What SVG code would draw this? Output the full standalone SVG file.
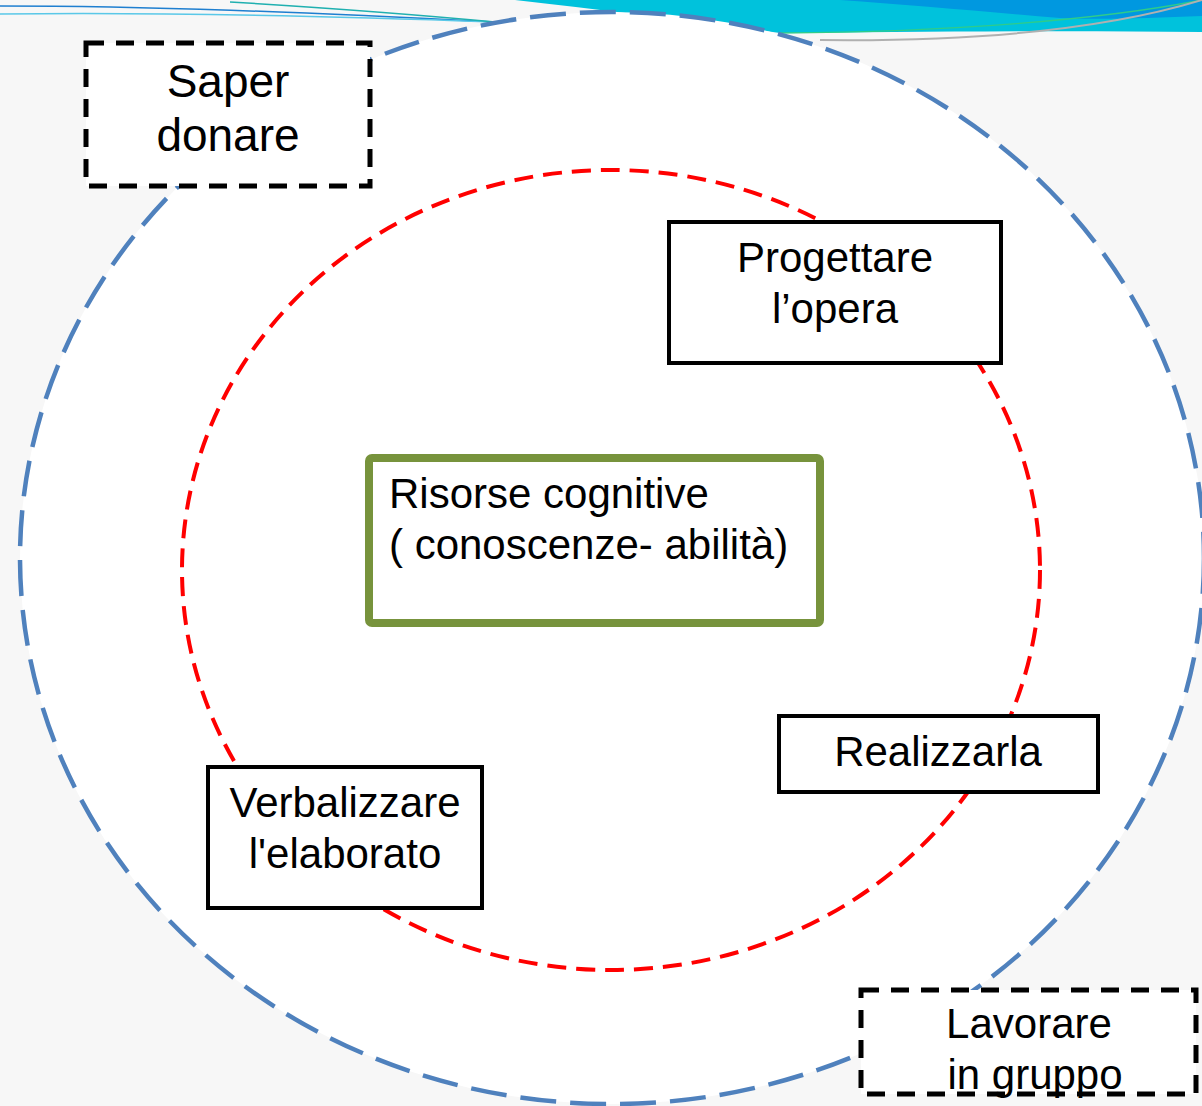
<svg xmlns="http://www.w3.org/2000/svg" width="1202" height="1106" viewBox="0 0 1202 1106">
<style>
text{font-family:"Liberation Sans",Arial,sans-serif;font-size:42px;fill:#000}
.c{text-anchor:middle}
.big{font-size:46px}
.box{fill:#fff;stroke:#000;stroke-width:4}
.dbox{fill:#fff;stroke:#000;stroke-width:5;stroke-dasharray:18,12}
</style>
<rect x="0" y="0" width="1202" height="1106" fill="#f7f7f7"/>
<g id="decoration">
<path d="M515,0 L1202,0 L1202,32 C1050,30 900,32 780,33 C690,20 600,10 515,0 Z" fill="#00c2dc"/>
<path d="M840,0 L1202,0 L1202,16 C1150,18 1100,20 1060,18 C990,12 910,5 840,0 Z" fill="#0098e0"/>
<path d="M780,33 C950,32 1100,20 1202,0" fill="none" stroke="#2ecc8a" stroke-width="1.5"/>
<path d="M820,40 C1000,42 1120,25 1202,0" fill="none" stroke="#b0b0b0" stroke-width="2"/>
<path d="M0,6 C150,6 300,12 495,22" fill="none" stroke="#1f7fd0" stroke-width="1.5"/>
<path d="M0,14 C150,12 300,15 495,22" fill="none" stroke="#5ac8e8" stroke-width="1.5"/>
<path d="M230,2 C330,8 420,15 495,22" fill="none" stroke="#20b0b0" stroke-width="1.5"/>
</g>
<g id="rings">
<ellipse id="outer-ring" cx="612" cy="558" rx="592" ry="546" fill="#fff" stroke="#4f81bd" stroke-width="4.5" stroke-dasharray="36,14"/>
<ellipse id="inner-ring" cx="611" cy="570" rx="429" ry="400" fill="none" stroke="#ff0000" stroke-width="4" stroke-dasharray="19,10"/>
</g>
<g id="node-saper">
<rect class="dbox" x="86" y="43" width="284" height="143"/>
<text class="c big" x="228" y="97">Saper</text>
<text class="c big" x="228" y="151">donare</text>
</g>
<g id="node-progettare">
<rect class="box" x="669" y="222" width="332" height="141"/>
<text class="c" x="835" y="272">Progettare</text>
<text class="c" x="835" y="323">l’opera</text>
</g>
<g id="node-risorse">
<rect x="369" y="458" width="451" height="165" rx="3" fill="#fff" stroke="#77933c" stroke-width="8"/>
<text x="389" y="508">Risorse cognitive</text>
<text x="389" y="559">( conoscenze- abilità)</text>
</g>
<g id="node-realizzarla">
<rect class="box" x="779" y="716" width="319" height="76"/>
<text class="c" x="938" y="766">Realizzarla</text>
</g>
<g id="node-verbalizzare">
<rect class="box" x="208" y="767" width="274" height="141"/>
<text class="c" x="345" y="817">Verbalizzare</text>
<text class="c" x="345" y="868">l'elaborato</text>
</g>
<g id="node-lavorare">
<rect class="dbox" x="861" y="990" width="335" height="104"/>
<text class="c" x="1029" y="1038">Lavorare</text>
<text class="c" x="1035" y="1089">in gruppo</text>
</g>
<g id="connectors"></g>
</svg>
